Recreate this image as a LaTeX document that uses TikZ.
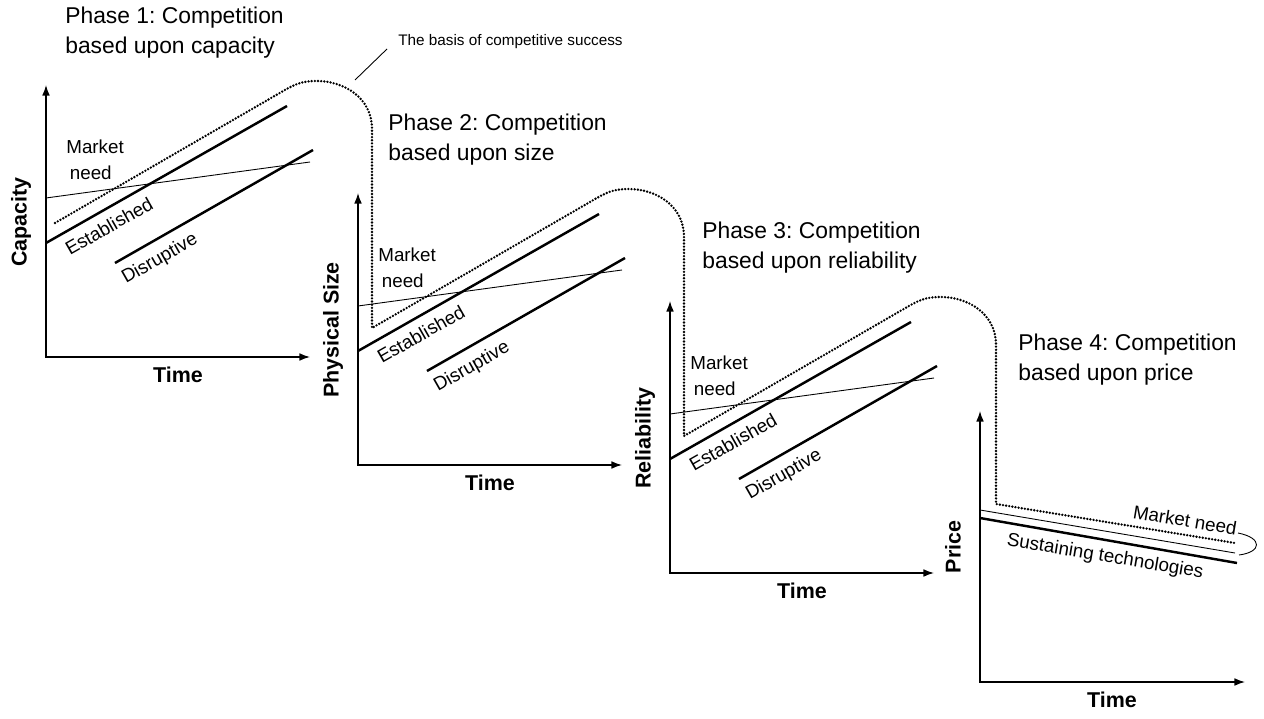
\documentclass[tikz,border=0pt]{standalone}
\usepackage{fontspec}
\setmainfont{Liberation Sans}
\usetikzlibrary{arrows.meta}
\begin{document}
\frenchspacing
\begin{tikzpicture}[x=0.02cm,y=-0.02cm,
  axis/.style={line width=0.75pt,{Latex[length=6pt,width=4.4pt]}-{Latex[length=6pt,width=4.4pt]}},
  thickln/.style={line width=1.4pt},
  thinln/.style={line width=0.5pt},
  dotln/.style={line width=1.5pt,dash pattern=on 0pt off 1.8pt,line cap=round},
  title/.style={font=\fontsize{13}{17}\selectfont,align=left,anchor=west,inner sep=0pt},
  lbl/.style={font=\fontsize{10.7}{14.7}\selectfont,inner sep=0pt},
  axlbl/.style={font=\fontsize{12.2}{14}\selectfont\bfseries,inner sep=0pt},
  captxt/.style={font=\fontsize{8.7}{10}\selectfont,anchor=west,inner sep=0pt}]
\useasboundingbox (0,0) rectangle (1264,719);

\foreach \k/\ox/\oy/\lab in {1/46/357/Capacity,2/358/465/Physical Size,3/670/573/Reliability}{
  \begin{scope}[shift={(\ox,\oy)},yscale=-1]
    \coordinate (o\k) at (0,0);
    \coordinate (yt\k) at (0,272);
    \coordinate (xe\k) at (264,0);
    \draw[axis] (yt\k) -- (o\k) -- (xe\k);
    \coordinate (m1\k) at (0,159);
    \coordinate (m2\k) at (264,195);
    \coordinate (e1\k) at (0,114);
    \coordinate (e2\k) at (241,251);
    \coordinate (d1\k) at (69,94);
    \coordinate (d2\k) at (267,207);
    \coordinate (s\k) at (14,137);
    \coordinate (a\k) at (232,263);
    \coordinate (t\k) at (271,276);
    \coordinate (v\k) at (326,228);
    \draw[thinln] (m1\k) -- (m2\k);
    \draw[thickln] (e1\k) -- (e2\k);
    \draw[thickln] (d1\k) -- (d2\k);
    \node[lbl,align=left,anchor=west] (mn\k) at (20,197) {Market\\\hspace{2pt}need};
    \node[lbl,rotate=29.6] (es\k) at (63,131) {Established};
    \node[lbl,rotate=29.7] (di\k) at (114,98) {Disruptive};
    \node[axlbl] (tm\k) at (132,-18) {Time};
    \node[axlbl,rotate=90] (yl\k) at (-25,135) {\lab};
  \end{scope}
}

\begin{scope}[shift={(980,682)},yscale=-1]
  \coordinate (o4) at (0,0);
  \coordinate (yt4) at (0,271);
  \coordinate (xe4) at (265,0);
  \draw[axis] (yt4) -- (o4) -- (xe4);
  \coordinate (s4) at (16,178);
  \coordinate (q4) at (255,139);
  \coordinate (m14) at (0,172);
  \coordinate (m24) at (255,129);
  \coordinate (e14) at (0,164);
  \coordinate (e24) at (257,119);
  \coordinate (b1) at (258,149);
  \coordinate (b2) at (259,127);
  \draw[thinln] (m14) -- (m24);
  \draw[thickln] (e14) -- (e24);
  \draw[thinln] (b1) .. controls (283,144) and (282,130) .. (b2);
  \node[lbl,rotate=-9.5] (mn4) at (205,162) {Market need};
  \node[lbl,rotate=-9.5] (su4) at (125,125) {Sustaining technologies};
  \node[axlbl] (tm4) at (132,-18) {Time};
  \node[axlbl,rotate=90] (yl4) at (-27,135) {Price};
\end{scope}

\coordinate (start) at (55,223);
\draw[dotln] (start) -- (a1) .. controls +(17,-10) and +(-16,0) .. (t1)
  .. controls +(26,0) and +(0,-32) .. (v1) -- (s2)
  -- (a2) .. controls +(17,-10) and +(-16,0) .. (t2)
  .. controls +(26,0) and +(0,-32) .. (v2) -- (s3)
  -- (a3) .. controls +(17,-10) and +(-16,0) .. (t3)
  .. controls +(26,0) and +(0,-32) .. (v3) -- (s4) -- (q4);

\node[title] (p1) at (65,33) {Phase 1: Competition\\based upon capacity};
\node[title] (p2) at (388,140) {Phase 2: Competition\\based upon size};
\node[title] (p3) at (702,248) {Phase 3: Competition\\based upon reliability};
\node[title] (p4) at (1018,360) {Phase 4: Competition\\based upon price};

\node[captxt] (basis) at (398,42) {The basis of competitive success};
\coordinate (lead) at (355,80);
\draw[line width=0.5pt] (lead) -- (387,49);
\end{tikzpicture}
\end{document}
